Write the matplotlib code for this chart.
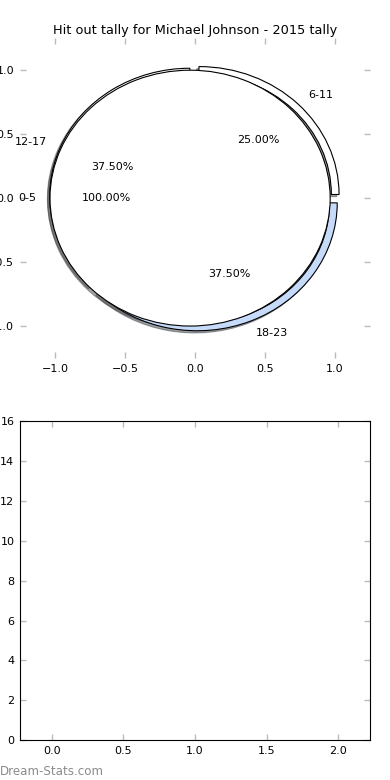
import matplotlib.pyplot as plt

# data
age_groups = ['6-11', '12-17', '18-23']
age_counts = [2, 3, 3]
age_colors = ['white', 'white', '#c6dbfa']

inner_groups = ['0-5']
inner_counts = [1]

title = 'Hit out tally for Michael Johnson - 2015 tally'

fig = plt.figure(figsize=(3.9, 7.8), dpi=100)

ax1 = fig.add_axes([0.051, 0.541, 0.898, 0.41])
ax2 = fig.add_axes([0.051, 0.051, 0.898, 0.409])

shadow = dict(ox=-0.012, oy=-0.012)

# outer ring
ax1.pie(age_counts, labels=age_groups, colors=age_colors, explode=[0.04] * 3,
        startangle=0, autopct='%1.2f%%', shadow=shadow, radius=1.0,
        wedgeprops=dict(width=0.055, edgecolor='black', linewidth=0.8),
        textprops=dict(fontsize=8), frame=True)
# inner pie, drawn on top
ax1.pie(inner_counts, labels=inner_groups, colors=['white'], startangle=0,
        explode=[0.035], autopct='%1.2f%%', shadow=shadow, radius=1.0,
        wedgeprops=dict(edgecolor='black', linewidth=0.8),
        textprops=dict(fontsize=8), frame=True)

ax1.set_xlim(-1.25, 1.25)
ax1.set_ylim(-1.25, 1.25)
ax1.set_aspect('auto')
ax1.set_frame_on(False)
ax1.set_xticks([-1.0, -0.5, 0.0, 0.5, 1.0])
ax1.set_yticks([-1.0, -0.5, 0.0, 0.5, 1.0])
ax1.set_title(title, fontsize=9.3, pad=3)

ax2.set_xlim(-0.224, 2.224)
ax2.set_ylim(0, 16)
ax2.set_yticks(range(0, 17, 2))
ax2.set_xticks([0.0, 0.5, 1.0, 1.5, 2.0])

for ax in (ax1, ax2):
    ax.tick_params(direction='in', length=4, width=1, color='#bbbbbb',
                   top=True, right=True, labelsize=8, pad=4)

fig.text(0.0, 0.006, 'Dream-Stats.com', fontsize=8.6, color='#8c8c8c')

fig.savefig('out.png', dpi=100)
